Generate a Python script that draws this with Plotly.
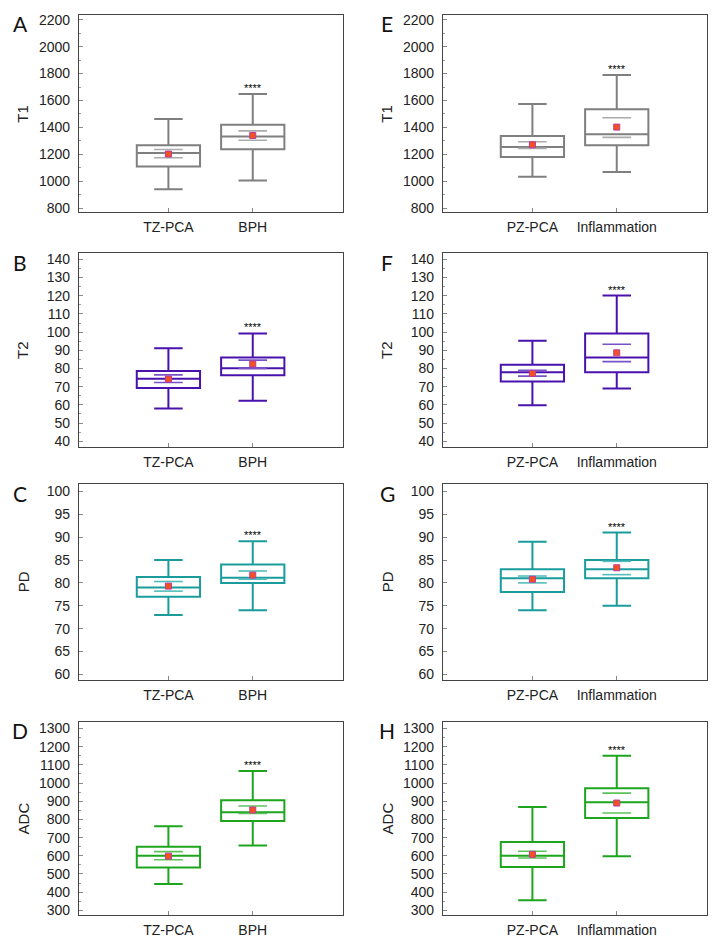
import plotly.graph_objects as go

# ---------------- data ----------------
groups_left = ["TZ-PCA", "BPH"]
groups_right = ["PZ-PCA", "Inflammation"]

# T1
t1_left_low = [940, 1005]
t1_left_q1 = [1110, 1238]
t1_left_med = [1210, 1332]
t1_left_q3 = [1268, 1420]
t1_left_high = [1462, 1648]
t1_left_mean = [1202, 1340]
t1_left_ci_lo = [1175, 1305]
t1_left_ci_hi = [1236, 1374]

t1_right_low = [1033, 1068]
t1_right_q1 = [1180, 1267]
t1_right_med = [1255, 1349]
t1_right_q3 = [1336, 1534]
t1_right_high = [1573, 1789]
t1_right_mean = [1271, 1402]
t1_right_ci_lo = [1244, 1326]
t1_right_ci_hi = [1293, 1472]

# T2
t2_left_low = [58, 62.3]
t2_left_q1 = [69.3, 76.3]
t2_left_med = [74.3, 80.1]
t2_left_q3 = [78.6, 86]
t2_left_high = [91.2, 99.3]
t2_left_mean = [74.2, 82.5]
t2_left_ci_lo = [72.3, 80.0]
t2_left_ci_hi = [76.5, 84.6]

t2_right_low = [59.8, 69]
t2_right_q1 = [72.9, 78]
t2_right_med = [78, 86]
t2_right_q3 = [82, 99.2]
t2_right_high = [95.2, 120.1]
t2_right_mean = [77.3, 88.6]
t2_right_ci_lo = [75.8, 83.8]
t2_right_ci_hi = [79, 93.3]

# PD
pd_left_low = [73, 74]
pd_left_q1 = [77, 80]
pd_left_med = [79, 81.1]
pd_left_q3 = [81.3, 84]
pd_left_high = [85, 89.1]
pd_left_mean = [79.3, 81.7]
pd_left_ci_lo = [78.2, 80.8]
pd_left_ci_hi = [80.3, 82.6]

pd_right_low = [74, 75]
pd_right_q1 = [78, 81]
pd_right_med = [81, 83]
pd_right_q3 = [83, 85]
pd_right_high = [89, 91]
pd_right_mean = [80.8, 83.3]
pd_right_ci_lo = [80, 81.8]
pd_right_ci_hi = [81.5, 84.7]

# ADC
adc_left_low = [445, 657]
adc_left_q1 = [535, 792]
adc_left_med = [600, 840]
adc_left_q3 = [650, 906]
adc_left_high = [763, 1067]
adc_left_mean = [598, 852]
adc_left_ci_lo = [578, 833]
adc_left_ci_hi = [623, 874]

adc_right_low = [355, 597]
adc_right_q1 = [538, 808]
adc_right_med = [600, 895]
adc_right_q3 = [676, 972]
adc_right_high = [868, 1150]
adc_right_mean = [608, 890]
adc_right_ci_lo = [588, 835]
adc_right_ci_hi = [625, 945]

row_titles = ["T1", "T2", "PD", "ADC"]
letters_left = ["A", "B", "C", "D"]
letters_right = ["E", "F", "G", "H"]
star_text = "****"

# ---------------- styling ----------------
OFF = 8  # default page body margin
W, H = 728 - OFF, 946 - OFF
row_px = [(12, 211), (252, 447), (485, 682), (724, 919)]
col_px = [(79, 343), (443, 707)]
y_ranges = [[768, 2235], [37, 143.4], [58.8, 101.5], [273, 1338]]
y_dticks = [200, 10, 5, 100]
y_minor = [100, 5, None, 50]
box_colors = ["#7f7f7f", "#4a12ad", "#1a9c9c", "#1ea51e"]
ci_colors = ["#ababab", "#7a52c8", "#55bcbc", "#5cc35c"]
letter_y = [21, 261, 494, 733]
letter_x = [20, 387]
title_x = [23, 387]


def px_x(p):
    return (p - OFF) / W


def px_y(p):
    return 1 - (p - OFF) / H


panels = [
    [
        (t1_left_low, t1_left_q1, t1_left_med, t1_left_q3, t1_left_high, t1_left_mean, t1_left_ci_lo, t1_left_ci_hi),
        (t1_right_low, t1_right_q1, t1_right_med, t1_right_q3, t1_right_high, t1_right_mean, t1_right_ci_lo, t1_right_ci_hi),
    ],
    [
        (t2_left_low, t2_left_q1, t2_left_med, t2_left_q3, t2_left_high, t2_left_mean, t2_left_ci_lo, t2_left_ci_hi),
        (t2_right_low, t2_right_q1, t2_right_med, t2_right_q3, t2_right_high, t2_right_mean, t2_right_ci_lo, t2_right_ci_hi),
    ],
    [
        (pd_left_low, pd_left_q1, pd_left_med, pd_left_q3, pd_left_high, pd_left_mean, pd_left_ci_lo, pd_left_ci_hi),
        (pd_right_low, pd_right_q1, pd_right_med, pd_right_q3, pd_right_high, pd_right_mean, pd_right_ci_lo, pd_right_ci_hi),
    ],
    [
        (adc_left_low, adc_left_q1, adc_left_med, adc_left_q3, adc_left_high, adc_left_mean, adc_left_ci_lo, adc_left_ci_hi),
        (adc_right_low, adc_right_q1, adc_right_med, adc_right_q3, adc_right_high, adc_right_mean, adc_right_ci_lo, adc_right_ci_hi),
    ],
]

fig = go.Figure()
layout = dict(
    width=W, height=H,
    margin=dict(l=0, r=0, t=0, b=0),
    paper_bgcolor="white", plot_bgcolor="white",
    showlegend=False,
    font=dict(family="Liberation Sans, Arial, sans-serif", size=13, color="#222222"),
)
annotations = []
FR = "#444444"
ci_half = 0.17

idx = 0
for r in range(4):
    for c in range(2):
        idx += 1
        xa = "x" if idx == 1 else f"x{idx}"
        ya = "y" if idx == 1 else f"y{idx}"
        xkey = "xaxis" if idx == 1 else f"xaxis{idx}"
        ykey = "yaxis" if idx == 1 else f"yaxis{idx}"
        groups = groups_left if c == 0 else groups_right
        low, q1, med, q3, high, mean, cilo, cihi = panels[r][c]
        col = box_colors[r]
        cic = ci_colors[r]
        pos = list(range(len(groups)))

        fig.add_trace(go.Box(
            x=pos, q1=q1, median=med, q3=q3, lowerfence=low, upperfence=high,
            width=0.75, whiskerwidth=0.45, boxpoints=False,
            fillcolor="white", line=dict(color=col, width=2),
            xaxis=xa, yaxis=ya, hoverinfo="skip",
        ))
        # confidence interval lines of the mean
        for k in pos:
            for v in (cilo[k], cihi[k]):
                fig.add_trace(go.Scatter(
                    x=[k - ci_half, k + ci_half], y=[v, v], mode="lines",
                    line=dict(color=cic, width=1.6), xaxis=xa, yaxis=ya,
                    hoverinfo="skip",
                ))
        # means
        fig.add_trace(go.Scatter(
            x=pos, y=mean, mode="markers",
            marker=dict(symbol="square", size=6, color="#f2521e",
                        line=dict(color="#c0389a", width=1)),
            xaxis=xa, yaxis=ya, hoverinfo="skip",
        ))
        # significance stars over second group
        annotations.append(dict(
            x=1, y=high[1], xref=xa, yref=ya, text=star_text, showarrow=False,
            xanchor="center", yanchor="bottom", yshift=-2,
            font=dict(size=11, color="#000000"),
        ))

        x0, x1 = col_px[c]
        y0, y1 = row_px[r]
        layout[xkey] = dict(
            domain=[px_x(x0), px_x(x1)], range=[-1.06, 2.07],
            tickmode="array", tickvals=pos, ticktext=groups,
            ticks="inside", ticklen=4, tickcolor="#888888",
            showline=True, mirror=True, linecolor=FR, linewidth=1.3,
            showgrid=False, zeroline=False, anchor=ya,
            tickfont=dict(size=14, color="#222222"),
            ticklabelstandoff=2,
        )
        ydict = dict(
            domain=[px_y(y1), px_y(y0)], range=y_ranges[r],
            dtick=y_dticks[r], tick0=0,
            ticks="inside", ticklen=4, tickcolor="#888888",
            showline=True, mirror=True, linecolor=FR, linewidth=1.3,
            showgrid=False, zeroline=False, anchor=xa,
            tickfont=dict(size=14, color="#222222"),
            ticklabelstandoff=5,
        )
        if y_minor[r]:
            ydict["minor"] = dict(dtick=y_minor[r], tick0=0, ticks="inside",
                                  ticklen=2, tickcolor="#999999", showgrid=False)
        layout[ykey] = ydict

        # y axis title
        annotations.append(dict(
            x=px_x(title_x[c]), y=px_y((y0 + y1) / 2), xref="paper", yref="paper",
            xanchor="center", yanchor="middle",
            text=row_titles[r], textangle=-90, showarrow=False,
            font=dict(size=15, color="#222222"),
        ))
        # panel letter
        letters = letters_left if c == 0 else letters_right
        annotations.append(dict(
            x=px_x(letter_x[c]), y=px_y(letter_y[r]), xref="paper", yref="paper",
            xanchor="center", yanchor="middle",
            text=letters[r], showarrow=False,
            font=dict(family="Lato, Open Sans, sans-serif", size=21, color="#111111"),
        ))

layout["annotations"] = annotations
fig.update_layout(**layout)
fig.write_html("out.html")
